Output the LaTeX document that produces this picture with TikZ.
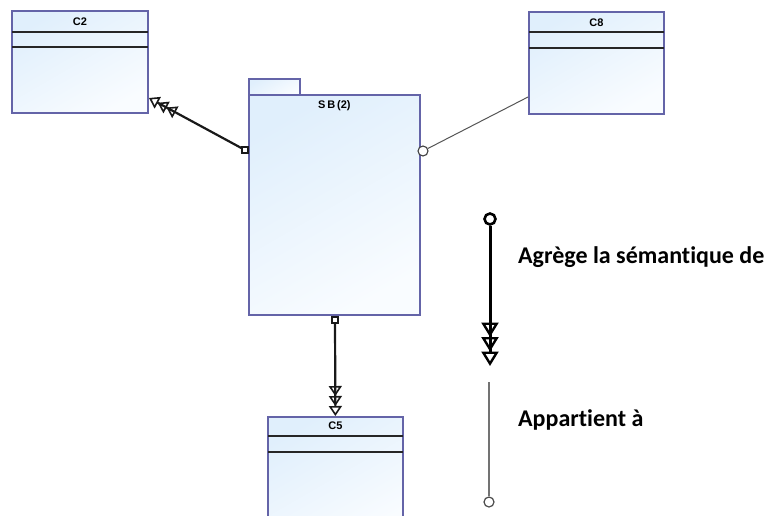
\documentclass[tikz,border=0pt]{standalone}
\usepackage{fontspec}
\setmainfont{Carlito}[Ligatures=CommonOff]
\newfontfamily\boxfont{Liberation Sans}
\usetikzlibrary{arrows.meta}
\definecolor{bord}{HTML}{6464A8}
\definecolor{fillA}{HTML}{E0EFFC}
\definecolor{fillB}{HTML}{F9FCFF}
\definecolor{assocgray}{HTML}{555555}
\begin{document}
\begin{tikzpicture}[x=1pt,y=-1pt,
  clsbox/.style={draw=bord,line width=1.8pt,top color=fillA,bottom color=fillB,shading angle=30,anchor=north west,inner sep=0pt,minimum width=136pt,minimum height=102pt},
  pkgbox/.style={draw=bord,line width=1.8pt,top color=fillA,bottom color=fillB,shading angle=30,anchor=north west,inner sep=0pt},
  ctitle/.style={font=\boxfont\bfseries\fontsize{11}{13}\selectfont,inner sep=0pt},
  hdr/.style={draw=black!85,line width=1.1pt},
  sqport/.style={draw=black!90,fill=white,line width=1.6pt,minimum size=6pt,inner sep=0pt},
  cport/.style={circle,draw=black!75,fill=white,line width=1.1pt,minimum size=10pt,inner sep=0pt},
  agg/.style={line width=2.2pt,draw=black!90,-{Triangle[open,length=10pt,width=13pt,line width=1.6pt]Triangle[open,length=10pt,width=13pt,line width=1.6pt]Triangle[open,length=10pt,width=13pt,line width=1.6pt]}},
  assoc/.style={line width=1pt,draw=assocgray},
  legagg/.style={line width=3pt,draw=black,-{Triangle[open,length=14.5pt,width=17pt,line width=2.4pt]Triangle[open,length=14.5pt,width=17pt,line width=2.4pt]Triangle[open,length=14.5pt,width=17pt,line width=2.4pt]}},
  legcirc/.style={circle,draw=black,fill=white,line width=2.6pt,minimum size=11pt,inner sep=0pt},
  legcirc2/.style={circle,draw=black!70,fill=white,line width=1.2pt,minimum size=10pt,inner sep=0pt},
  legline/.style={line width=2pt,draw=black!55},
  legtext/.style={anchor=west,inner sep=0pt,font=\bfseries\fontsize{24}{28}\selectfont}
]
\useasboundingbox (0,0) rectangle (769,515);
\clip (0,0) rectangle (769,515);
\fill[white] (0,0) rectangle (769,515);

% classes
\node[clsbox] (c2) at (11,10) {};
\node[ctitle] (c2t) at ([yshift=-12pt]c2.north) {C2};
\draw[hdr] ([xshift=1pt,yshift=-22pt]c2.north west) -- ([xshift=-1pt,yshift=-22pt]c2.north east);
\draw[hdr] ([xshift=1pt,yshift=-37pt]c2.north west) -- ([xshift=-1pt,yshift=-37pt]c2.north east);

\node[clsbox,minimum width=135pt] (c8) at (528,11) {};
\node[ctitle] (c8t) at ([yshift=-12pt]c8.north) {C8};
\draw[hdr] ([xshift=1pt,yshift=-21pt]c8.north west) -- ([xshift=-1pt,yshift=-21pt]c8.north east);
\draw[hdr] ([xshift=1pt,yshift=-37pt]c8.north west) -- ([xshift=-1pt,yshift=-37pt]c8.north east);

\node[clsbox,minimum width=135pt,minimum height=120pt] (c5) at (267,416) {};
\node[ctitle] (c5t) at ([yshift=-10pt]c5.north) {C5};
\draw[hdr] ([xshift=1pt,yshift=-20pt]c5.north west) -- ([xshift=-1pt,yshift=-20pt]c5.north east);
\draw[hdr] ([xshift=1pt,yshift=-36pt]c5.north west) -- ([xshift=-1pt,yshift=-36pt]c5.north east);

% package
\node[pkgbox,minimum width=51pt,minimum height=16pt] (sbtab) at (248,78) {};
\node[pkgbox,minimum width=171pt,minimum height=220pt] (sb) at (248,94) {};
\node[ctitle] (sbt) at ([yshift=-12pt]sb.north) {S\,B\,(2)};

% ports
\node[sqport] (p1) at (245,150) {};
\node[cport] (p2) at (423,151) {};
\node[sqport] (p3) at (335,320) {};

% connectors
\coordinate (c2in) at (149,98);
\coordinate (c8in) at (528,97);
\draw[agg] (p1) -- (c2in);
\draw[assoc] (p2) -- (c8in);
\draw[agg] (p3) -- (c5.north);

% legend
\node[legcirc] (l1a) at (490,219) {};
\coordinate (l1b) at (490,366);
\draw[legagg] (l1a) -- (l1b);
\node[legtext] (t1) at (518,257) {Agrège la sémantique de};
\coordinate (l2a) at (489,382);
\node[legcirc2] (l2b) at (489,502) {};
\draw[legline] (l2a) -- (l2b);
\node[legtext] (t2) at (518,420) {Appartient à};
\end{tikzpicture}
\end{document}
